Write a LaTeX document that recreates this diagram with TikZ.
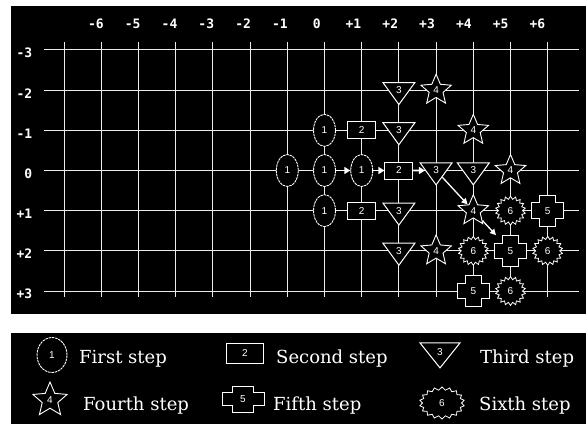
\documentclass[tikz,border=0pt]{standalone}
\usepackage{fontspec}
\setmainfont{DejaVu Serif}
\setsansfont{Liberation Sans}
\newfontfamily\axisface{DejaVu Sans Mono}
\usetikzlibrary{arrows.meta,shapes.geometric,shapes.symbols}
\definecolor{ink}{HTML}{000000}
\definecolor{chalk}{HTML}{FFFFFF}
\definecolor{gridln}{HTML}{ECECEC}
% black plus with a white rim, centred on #1, #2 wide and #3 high (in pt)
\newcommand\plusoutline[3]{%
  \filldraw[shift={#1}, x=1pt, y=1pt, fill=ink, draw=chalk, line width=1pt]
    ({-#2/4},{-#3/2}) -- ({#2/4},{-#3/2}) -- ({#2/4},{-#3/4}) -- ({#2/2},{-#3/4})
    -- ({#2/2},{#3/4}) -- ({#2/4},{#3/4}) -- ({#2/4},{#3/2}) -- ({-#2/4},{#3/2})
    -- ({-#2/4},{#3/4}) -- ({-#2/2},{#3/4}) -- ({-#2/2},{-#3/4}) -- ({-#2/4},{-#3/4}) -- cycle;}
\tikzset{
  gridline/.style={draw=gridln, line width=1.5pt},
  axislbl/.style={font=\axisface\bfseries\fontsize{13}{13}\selectfont, text=chalk, inner sep=0pt},
  stepbox/.style={draw=chalk, fill=ink, text=chalk, inner sep=0pt,
                  font=\sffamily\fontsize{10}{10}\selectfont},
  firstbox/.style={stepbox, ellipse, dash pattern=on 2.5pt off 0.8pt, line width=0.9pt,
                   minimum width=22pt, minimum height=32pt},
  secondbox/.style={stepbox, rectangle, line width=1pt, minimum width=28pt, minimum height=17pt},
  thirdbox/.style={stepbox, isosceles triangle, isosceles triangle stretches,
                   shape border rotate=270, line width=1pt, minimum width=32pt, minimum height=22pt},
  fourthbox/.style={stepbox, star, star points=5, star point ratio=2.2, line width=0.9pt,
                    minimum size=32pt},
  fifthbox/.style 2 args={stepbox, rectangle, draw=none, fill=none,
                          minimum width=#1pt, minimum height=#2pt},
  sixthbox/.style={stepbox, starburst, starburst points=18, starburst point height=3pt,
                   random starburst=0, line width=0.8pt, minimum width=30pt, minimum height=29pt},
  legendtxt/.style={font=\fontsize{18}{18}\selectfont, text=chalk, anchor=base west, inner sep=0pt},
  movearrow/.style={-{Triangle[length=6pt,width=7pt]}, draw=chalk, line width=1.8pt},
  diagarrow/.style={-{Triangle[length=6pt,width=6pt]}, draw=chalk, line width=1.3pt}
}
\begin{document}
\begin{tikzpicture}[x=1pt,y=-1pt]
  \useasboundingbox (0,0) rectangle (586,424);
  \fill[white] (0,0) rectangle (586,424);

  % the two black panels
  \fill[ink] (11,6) rectangle (586,314);
  \fill[ink] (11,333) rectangle (586,424);

  % grid, snapped to whole pixels
  \foreach \c in {-7,...,6}
    \draw[gridline] ({round(324+37.2*\c)+0.5},42) -- ({round(324+37.2*\c)+0.5},297);
  \foreach \r in {-3,...,3}
    \draw[gridline] (44,{round(170+40.17*\r)+0.5}) -- (579,{round(170+40.17*\r)+0.5});

  \begin{scope}[shift={(324.5,170.5)}, x=37.2pt, y=-40.17pt]
    % column and row numbers
    \foreach \c/\t in {-6/-6, -5/-5, -4/-4, -3/-3, -2/-2, -1/-1, 0/0,
                       1/+1, 2/+2, 3/+3, 4/+4, 5/+5, 6/+6}
      \node[axislbl] (col\c) at ({\c-0.21-0.011*\c}, -3.66) {\t};
    \foreach \r/\t in {-3/-3, -2/-2, -1/-1, 0/0, 1/+1, 2/+2, 3/+3}
      \node[axislbl, anchor=east] (row\r) at (-7.85, \r+0.08) {\t};

    % the steps
    \foreach \c/\r/\n in {-1/0/f1, 0/-1/f2, 0/0/f3, 0/1/f4, 1/0/f5}
      \node[firstbox] (\n) at (\c,\r) {1};
    \foreach \c/\r/\n in {1/-1/s1, 2/0/s2, 1/1/s3}
      \node[secondbox] (\n) at (\c,\r) {2};
    \foreach \c/\r/\n in {2/-2/t1, 2/-1/t2, 3/0/t3, 4/0/t4, 2/1/t5, 2/2/t6}
      \node[thirdbox] (\n) at (\c,\r) {3};
    \foreach \c/\r/\n in {3/-2/q1, 4/-1/q2, 5/0/q3, 4/1/q4, 3/2/q5}
      \node[fourthbox] (\n) at (\c,\r) {4};
    \foreach \c/\r/\n in {6/1/v1, 5/2/v2, 4/3/v3} {
      \plusoutline{(\c,\r)}{32}{31}
      \node[fifthbox={32}{31}] (\n) at (\c,\r) {5};
    }
    \foreach \c/\r/\n in {5/1/x1, 4/2/x2, 6/2/x3, 5/3/x4}
      \node[sixthbox] (\n) at (\c,\r) {6};

    % the path
    \draw[movearrow] (f3) -- (f5);
    \draw[movearrow] (f5) -- (s2);
    \draw[movearrow] (s2) -- (t3);
    \draw[diagarrow] (t3) -- (q4);
    \draw[diagarrow] (q4) -- (v2);
  \end{scope}

  % legend
  \node[firstbox, minimum width=30pt, minimum height=35pt] (lg1) at (52,355) {1};
  \node[legendtxt] (lt1) at (79,363) {First step};
  \node[secondbox, minimum width=37pt, minimum height=20pt] (lg2) at (245,353) {2};
  \node[legendtxt] (lt2) at (276,363) {Second step};
  \node[thirdbox, minimum width=40pt, minimum height=25pt] (lg3) at (440,352) {3};
  \node[legendtxt] (lt3) at (480,363) {Third step};
  \node[fourthbox, minimum size=36pt] (lg4) at (50,400) {4};
  \node[legendtxt] (lt4) at (83,410) {Fourth step};
  \plusoutline{(243,399)}{42}{26}
  \node[fifthbox={42}{26}] (lg5) at (243,399) {5};
  \node[legendtxt] (lt5) at (273,410) {Fifth step};
  \node[sixthbox, minimum width=45pt, minimum height=32pt] (lg6) at (442,403) {6};
  \node[legendtxt] (lt6) at (479,410) {Sixth step};
\end{tikzpicture}
\end{document}
